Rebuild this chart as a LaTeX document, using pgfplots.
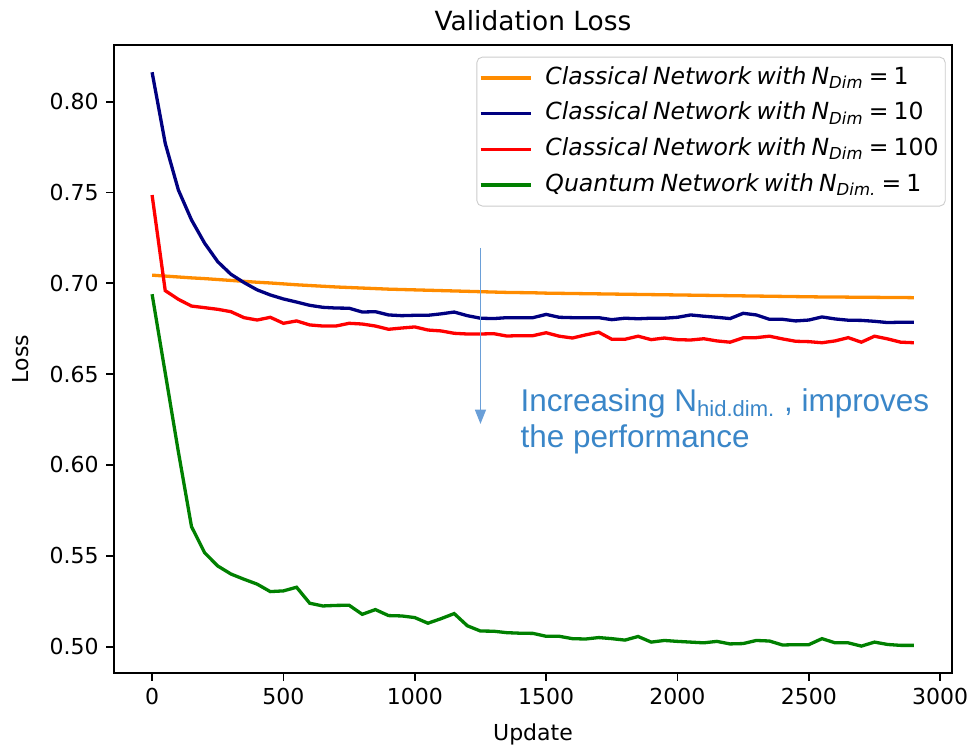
\documentclass[border=0pt]{standalone}
\usepackage{fontspec}
\setmainfont{DejaVu Sans}
\newfontfamily\arialfont{Liberation Sans}
\usepackage{pgfplots}
\pgfplotsset{compat=1.18}
\usepackage{pgfplotstable}
\usetikzlibrary{arrows.meta}

\definecolor{cOrange}{HTML}{FF8C00}
\definecolor{cNavy}{HTML}{000080}
\definecolor{cRed}{HTML}{FF0000}
\definecolor{cGreen}{HTML}{008000}
\definecolor{annot}{HTML}{3A86C8}
\definecolor{arrowc}{HTML}{6A9FD8}
\definecolor{legframe}{HTML}{CCCCCC}

\newcommand{\lsp}{\hspace{0.22em}}

\pgfplotstableread{
x o b r g
0 0.7045 0.8162 0.7486 0.6940
50 0.7040 0.7771 0.6960 0.6507
100 0.7035 0.7514 0.6912 0.6073
150 0.7030 0.7349 0.6875 0.5661
200 0.7026 0.7221 0.6866 0.5517
250 0.7021 0.7119 0.6857 0.5444
300 0.7016 0.7050 0.6844 0.5400
350 0.7011 0.7004 0.6811 0.5371
400 0.7006 0.6964 0.6798 0.5344
450 0.7002 0.6936 0.6813 0.5303
500 0.6997 0.6914 0.6780 0.5307
550 0.6992 0.6897 0.6793 0.5327
600 0.6988 0.6879 0.6771 0.5239
650 0.6984 0.6868 0.6765 0.5224
700 0.6980 0.6864 0.6765 0.5227
750 0.6977 0.6863 0.6780 0.5228
800 0.6974 0.6842 0.6776 0.5178
850 0.6971 0.6844 0.6765 0.5204
900 0.6968 0.6826 0.6747 0.5171
950 0.6966 0.6822 0.6754 0.5169
1000 0.6964 0.6824 0.6760 0.5160
1050 0.6962 0.6824 0.6743 0.5129
1100 0.6960 0.6832 0.6738 0.5154
1150 0.6958 0.6842 0.6725 0.5182
1200 0.6956 0.6822 0.6721 0.5115
1250 0.6954 0.6808 0.6721 0.5086
1300 0.6952 0.6806 0.6723 0.5085
1350 0.6950 0.6811 0.6710 0.5077
1400 0.6949 0.6811 0.6712 0.5074
1450 0.6948 0.6811 0.6712 0.5073
1500 0.6946 0.6829 0.6728 0.5057
1550 0.6945 0.6813 0.6709 0.5057
1600 0.6944 0.6811 0.6699 0.5044
1650 0.6943 0.6811 0.6716 0.5042
1700 0.6942 0.6811 0.6731 0.5050
1750 0.6941 0.6800 0.6692 0.5044
1800 0.6940 0.6808 0.6692 0.5036
1850 0.6939 0.6805 0.6709 0.5056
1900 0.6938 0.6808 0.6690 0.5025
1950 0.6937 0.6808 0.6699 0.5034
2000 0.6936 0.6813 0.6690 0.5029
2050 0.6935 0.6826 0.6688 0.5025
2100 0.6934 0.6819 0.6695 0.5021
2150 0.6933 0.6813 0.6683 0.5029
2200 0.6932 0.6806 0.6676 0.5015
2250 0.6931 0.6835 0.6700 0.5017
2300 0.6930 0.6826 0.6701 0.5034
2350 0.6929 0.6802 0.6709 0.5031
2400 0.6928 0.6802 0.6694 0.5009
2450 0.6927 0.6793 0.6681 0.5011
2500 0.6926 0.6798 0.6679 0.5011
2550 0.6925 0.6815 0.6673 0.5044
2600 0.6925 0.6804 0.6683 0.5021
2650 0.6924 0.6797 0.6701 0.5021
2700 0.6923 0.6796 0.6676 0.5003
2750 0.6923 0.6791 0.6709 0.5025
2800 0.6922 0.6784 0.6694 0.5012
2850 0.6922 0.6786 0.6676 0.5007
2900 0.6921 0.6786 0.6673 0.5007
}\losstable

\begin{document}
\begin{tikzpicture}
\path[use as bounding box] (-51.82pt,-33.18pt) rectangle (392.73pt,305.91pt);
\begin{axis}[
  at={(0pt,0pt)}, anchor=south west,
  scale only axis,
  width=380.91pt, height=285.45pt,
  xmin=-145, xmax=3045, ymin=0.4855, ymax=0.8312,
  xtick={0,500,1000,1500,2000,2500,3000},
  ytick={0.50,0.55,0.60,0.65,0.70,0.75,0.80},
  yticklabels={0.50,0.55,0.60,0.65,0.70,0.75,0.80},
  /pgf/number format/1000 sep={},
  /pgf/number format/assume math mode=true,
  tick pos=left,
  tick align=outside,
  major tick length=3.5pt,
  every tick/.style={black, line width=0.8pt},
  axis line style={line width=0.8pt},
  tick label style={font=\fontsize{10}{12}\selectfont},
  title={Validation Loss},
  every axis title/.style={at={(axis description cs:0.5,1)}, anchor=base, yshift=6.4pt, font=\fontsize{12}{14}\selectfont},
  xlabel={Update}, ylabel={Loss},
  label style={font=\fontsize{10}{12}\selectfont},
  xlabel style={yshift=-1.8pt},
  ylabel style={yshift=2.7pt},
  legend cell align=left,
  legend image code/.code={\draw[#1] (0pt,0pt) -- (22.7pt,0pt);},
  legend style={at={(rel axis cs:0.9925,0.9814)}, anchor=north east,
    draw=legframe, rounded corners=2.5pt, fill=white, fill opacity=0.8, text opacity=1,
    font=\fontsize{10.7}{12}\selectfont\itshape,
    inner xsep=1pt, inner ysep=3.3pt, row sep=3.7pt,
    nodes={inner xsep=2pt, inner ysep=1pt, text height=8pt, text depth=2.5pt},
    /tikz/every odd column/.append style={column sep=4pt}},
]
\addplot[cOrange, line width=1.5pt] table[x=x, y=o] {\losstable};
\addlegendentry{Classical\lsp Network\lsp with\lsp N\textsubscript{Dim}\lsp{\upshape =\lsp 1}}
\addplot[cNavy, line width=1.5pt] table[x=x, y=b] {\losstable};
\addlegendentry{Classical\lsp Network\lsp with\lsp N\textsubscript{Dim}\lsp{\upshape =\lsp 10}}
\addplot[cRed, line width=1.5pt] table[x=x, y=r] {\losstable};
\addlegendentry{Classical\lsp Network\lsp with\lsp N\textsubscript{Dim}\lsp{\upshape =\lsp 100}}
\addplot[cGreen, line width=1.5pt] table[x=x, y=g] {\losstable};
\addlegendentry{Quantum\lsp Network\lsp with\lsp N\textsubscript{Dim.}\lsp{\upshape =\lsp 1}}
\draw[arrowc, line width=0.6pt, -{Triangle[length=6.5pt, width=5pt]}] (axis cs:1250,0.7195) -- (axis cs:1250,0.6226);
\node[anchor=base west, inner sep=0pt, text=annot, font=\arialfont\fontsize{14.3}{16}\selectfont] at (axis cs:1401,0.6292) {Increasing N\textsubscript{hid.dim.} , improves};
\node[anchor=base west, inner sep=0pt, text=annot, font=\arialfont\fontsize{14.3}{16}\selectfont] at (axis cs:1401,0.6099) {the performance};
\end{axis}
\end{tikzpicture}
\end{document}
